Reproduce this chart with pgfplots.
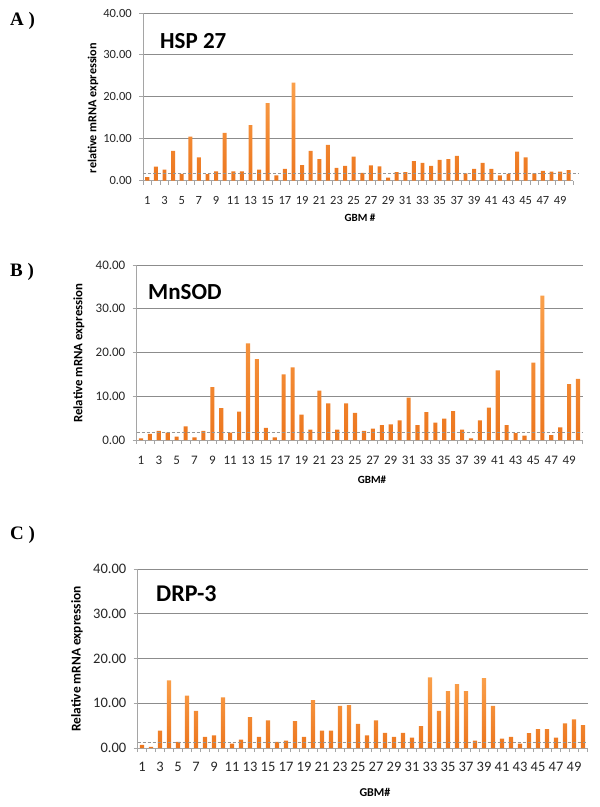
\documentclass[border=0pt]{standalone}
\usepackage{fontspec}
\setmainfont{Carlito}
\newfontfamily\panelfont{Liberation Serif}
\usepackage{pgfplots}
\usepackage{pgfplotstable}
\pgfplotsset{compat=1.18}
\definecolor{barhi}{RGB}{250,160,75}
\definecolor{barlo}{RGB}{236,118,30}
\definecolor{gridc}{RGB}{140,140,140}
\definecolor{axc}{RGB}{165,165,165}
\definecolor{dashc}{RGB}{150,150,150}

\pgfplotstableread{
x y
1 0.8
2 3.3
3 2.6
4 7.1
5 1.6
6 10.5
7 5.5
8 1.5
9 2.2
10 11.4
11 2.2
12 2.2
13 13.2
14 2.6
15 18.5
16 1.2
17 2.8
18 23.4
19 3.7
20 7.1
21 5.1
22 8.5
23 3.0
24 3.5
25 5.7
26 1.8
27 3.6
28 3.4
29 0.7
30 2.0
31 2.0
32 4.6
33 4.2
34 3.5
35 4.9
36 5.1
37 5.9
38 1.7
39 2.8
40 4.2
41 2.8
42 1.2
43 1.6
44 6.9
45 5.5
46 1.7
47 2.3
48 2.1
49 2.1
50 2.5
}\hsp

\pgfplotstableread{
x y
1 0.4
2 1.4
3 2.1
4 1.7
5 0.8
6 3.1
7 0.6
8 2.1
9 12.1
10 7.3
11 1.7
12 6.5
13 22.1
14 18.5
15 2.8
16 0.6
17 15.0
18 16.6
19 5.8
20 2.4
21 11.3
22 8.4
23 2.4
24 8.4
25 6.2
26 2.1
27 2.6
28 3.4
29 3.6
30 4.5
31 9.7
32 3.4
33 6.4
34 4.0
35 4.9
36 6.6
37 2.4
38 0.4
39 4.5
40 7.4
41 15.9
42 3.4
43 1.6
44 1.0
45 17.7
46 33.0
47 1.1
48 2.9
49 12.8
50 14.0
}\mnsod

\pgfplotstableread{
x y
1 0.7
2 0.25
3 3.9
4 15.1
5 1.35
6 11.7
7 8.3
8 2.5
9 2.8
10 11.3
11 1.0
12 1.9
13 6.9
14 2.5
15 6.2
16 1.35
17 1.65
18 6.0
19 2.5
20 10.7
21 3.9
22 3.9
23 9.4
24 9.6
25 5.4
26 2.8
27 6.2
28 3.4
29 2.5
30 3.4
31 2.3
32 4.9
33 15.8
34 8.3
35 12.7
36 14.3
37 12.7
38 1.65
39 15.6
40 9.4
41 2.1
42 2.5
43 1.0
44 3.3
45 4.2
46 4.2
47 2.3
48 5.5
49 6.4
50 5.1
}\drp

\pgfplotsset{
  gbm/.style={
    scale only axis,
    anchor=south west,
    xmin=0.5, xmax=50.5, ymin=0, ymax=40,
    ytick={0,10,20,30,40},
    ymajorgrids,
    grid style={gridc, line width=1bp},
    axis x line*=bottom, axis y line*=left,
    axis line style={axc, line width=1bp},
    tick align=outside,
    major tick length=4bp,
    tick style={axc, line width=0.8bp},
    xtick={0.5,1.5,...,50.5},
    xticklabels={},
    extra x ticks={1,3,...,49},
    extra x tick labels={1,3,5,7,9,11,13,15,17,19,21,23,25,27,29,31,33,35,37,39,41,43,45,47,49},
    extra x tick style={major tick length=0pt, grid=none},
    clip=false,
    /pgf/number format/assume math mode=true,
    yticklabel style={/pgf/number format/fixed, /pgf/number format/fixed zerofill, /pgf/number format/precision=2, anchor=east, inner sep=0pt, xshift=-7bp},
    xticklabel style={inner sep=0pt},
  },
  bars/.style={ybar, bar width=0.46, draw=none, top color=barhi, bottom color=barlo},
  thr/.style={dashc, line width=0.8bp, dash pattern=on 3bp off 2bp, sharp plot, forget plot},
}

\begin{document}
\begin{tikzpicture}
\path[use as bounding box] (0,0) rectangle (600bp,-807bp);

% Panel A
\begin{axis}[gbm, at={(143bp,-180.5bp)}, width=430bp, height=167.5bp,
  tick label style={font=\fontsize{12.5bp}{14bp}\selectfont, black!85},
  xticklabel style={yshift=-16bp}]
\addplot[bars] table[x=x,y=y] {\hsp};
\addplot[thr] coordinates {(0.5,1.6) (51.1,1.6)};
\end{axis}
\node[anchor=west, inner sep=0pt, font=\panelfont\bfseries\fontsize{19bp}{21bp}\selectfont] at (10bp,-21bp) {A )};
\node[anchor=west, inner sep=0pt, font=\bfseries\fontsize{23bp}{26bp}\selectfont] at (160bp,-41bp) {HSP 27};
\node[rotate=90, inner sep=0pt, font=\bfseries\fontsize{12.2bp}{14bp}\selectfont] at (93bp,-108bp) {relative mRNA expression};
\node[inner sep=0pt, font=\bfseries\fontsize{11bp}{13bp}\selectfont] at (360bp,-218bp) {GBM \#};

% Panel B
\begin{axis}[gbm, at={(136.5bp,-440bp)}, width=446bp, height=175bp,
  tick label style={font=\fontsize{13bp}{15bp}\selectfont, black!85},
  xticklabel style={yshift=-16bp}]
\addplot[bars] table[x=x,y=y] {\mnsod};
\addplot[thr] coordinates {(0.5,1.85) (50.5,1.85)};
\end{axis}
\node[anchor=west, inner sep=0pt, font=\panelfont\bfseries\fontsize{19bp}{21bp}\selectfont] at (10bp,-272bp) {B )};
\node[anchor=west, inner sep=0pt, font=\bfseries\fontsize{23bp}{26bp}\selectfont] at (148bp,-292bp) {MnSOD};
\node[rotate=90, inner sep=0pt, font=\bfseries\fontsize{12.8bp}{15bp}\selectfont] at (79bp,-353bp) {Relative mRNA expression};
\node[inner sep=0pt, font=\bfseries\fontsize{11bp}{13bp}\selectfont] at (372bp,-480bp) {GBM\#};

% Panel C
\begin{axis}[gbm, at={(137.5bp,-748bp)}, width=450bp, height=179bp,
  tick label style={font=\fontsize{14.5bp}{16bp}\selectfont, black!85},
  xticklabel style={yshift=-14bp}]
\addplot[bars] table[x=x,y=y] {\drp};
\addplot[thr] coordinates {(0.5,1.35) (50.5,1.35)};
\end{axis}
\node[anchor=west, inner sep=0pt, font=\panelfont\bfseries\fontsize{19bp}{21bp}\selectfont] at (10bp,-535bp) {C )};
\node[anchor=west, inner sep=0pt, font=\bfseries\fontsize{24bp}{27bp}\selectfont] at (156bp,-594bp) {DRP-3};
\node[rotate=90, inner sep=0pt, font=\bfseries\fontsize{13.4bp}{15bp}\selectfont] at (77bp,-659bp) {Relative mRNA expression};
\node[inner sep=0pt, font=\bfseries\fontsize{12bp}{14bp}\selectfont] at (375bp,-792bp) {GBM\#};
\end{tikzpicture}
\end{document}
